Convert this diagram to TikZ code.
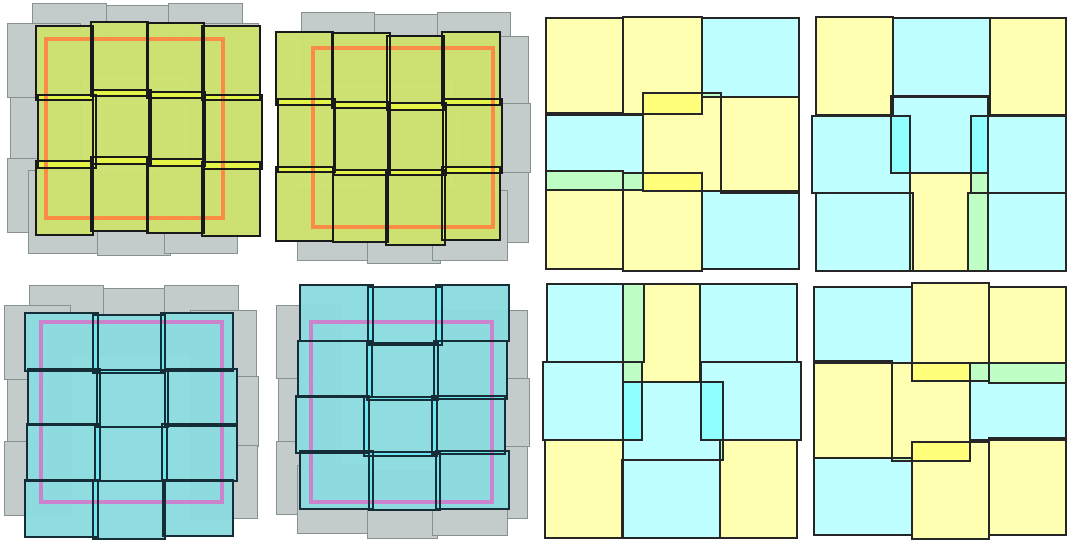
\documentclass[tikz,border=0pt]{standalone}
\begin{document}
\definecolor{grayfill}{RGB}{196,203,203}
\definecolor{grayline}{RGB}{135,145,145}
\definecolor{gfill}{RGB}{205,226,112}
\definecolor{gover}{RGB}{228,244,70}
\definecolor{cfill}{RGB}{140,220,224}
\definecolor{cover}{RGB}{110,232,240}
\definecolor{orangeline}{RGB}{250,140,70}
\definecolor{pinkline}{RGB}{205,130,205}
\definecolor{cborder}{RGB}{20,45,55}
\definecolor{pureyellow}{RGB}{255,255,0}
\definecolor{purecyan}{RGB}{0,255,255}
\newcommand\mytiles[2]{\foreach \a/\b/\c/\d in #1 {\path[#2] (\a,\b) rectangle (\c,\d);}}
\newcommand\myovl[2]{%
  \foreach \a/\b/\c/\d [count=\i] in #1 {%
    \foreach \e/\f/\g/\h [count=\j] in #1 {%
      \ifnum\j>\i
        \begin{scope}\clip (\a,\b) rectangle (\c,\d);\fill[#2] (\e,\f) rectangle (\g,\h);\end{scope}%
      \fi}}}
% gray backgrounds
\def\GA{32/3/106/75, 106/5/168/75, 168/3/242/75, 7/23/80/97, 10/97/80/158, 7/158/80/232, 28/170/101/253, 97/175/170/255, 164/170/237/253, 190/23/258/97, 190/97/262/158, 190/158/258/232}
\def\GB{301/12/374/80, 374/14/437/80, 437/12/510/80, 455/36/528/110, 460/103/530/172, 455/172/528/242, 297/190/371/260, 367/195/440/263, 432/190/507/260}
\def\GC{29/285/103/355, 103/288/164/355, 164/285/238/355, 4/305/70/379, 7/379/70/441, 4/441/70/515, 190/310/256/383, 190/376/258/446, 190/445/257/518}
\def\GD{276/305/340/378, 278/378/340/441, 276/441/340/514, 440/310/527/383, 440/378/529/446, 440/446/527/518, 297/465/370/533, 367/470/437/538, 432/465/507/535}
% coloured tiles
\def\PA{36/26/93/100, 91/22/148/96, 147/23/204/98, 202/26/260/100, 38/95/96/168, 93/90/151/164, 149/92/205/166, 203/95/262/169, 36/161/93/235, 91/157/148/231, 147/159/204/233, 202/162/260/236}
\def\PB{276/32/333/105, 332/33/390/108, 387/36/444/110, 442/32/500/105, 278/99/335/172, 334/102/390/175, 388/103/446/175, 443/99/502/173, 276/167/333/241, 333/170/388/242, 386/170/445/245, 442/167/500/240}
\def\PC{25/313/98/371, 93/315/165/373, 161/313/233/371, 28/369/100/425, 97/370/168/427, 165/369/237/426, 27/424/100/481, 95/427/167/481, 162/424/237/481, 25/480/98/537, 93/481/165/539, 163/480/233/536}
\def\PD{300/285/373/341, 368/287/442/345, 436/285/509/341, 298/341/372/397, 367/343/438/400, 434/341/507/399, 296/396/369/453, 364/397/437/456, 432/396/505/454, 300/451/373/509, 369/452/440/510, 436/451/509/509}
% right-hand panels
\def\YA{546/18/623/113, 623/17/702/114, 643/93/721/191, 721/97/799/193, 546/171/623/269, 623/173/702/271}
\def\CA{702/18/799/97, 546/115/643/190, 702/191/799/269}
\def\YB{816/17/893/115, 990/18/1066/115, 910/173/988/271}
\def\CB{893/18/990/97, 891/96/988/173, 812/116/910/193, 971/116/1066/193, 816/193/913/271, 968/193/1066/271}
\def\YC{623/284/700/382, 545/440/623/538, 720/440/797/538}
\def\CC{547/284/644/362, 700/284/797/362, 543/362/642/440, 623/382/723/460, 701/362/801/440, 622/460/720/538}
\def\YD{912/283/989/381, 989/287/1066/383, 814/361/892/458, 892/363/970/461, 912/442/989/539, 989/438/1066/535}
\def\CD{814/287/912/363, 970/363/1066/440, 814/458/912/535}
\begin{tikzpicture}[x=1pt,y=-1pt,
  graytile/.style={fill=grayfill,draw=grayline,line width=0.8pt},
  greentile/.style={fill=gfill,fill opacity=0.97},
  cyantile/.style={fill=cfill,fill opacity=0.97},
  darkborder/.style={draw=black!90,line width=1.2pt},
  cyanborder/.style={draw=cborder,line width=1.2pt},
  ytile/.style={fill=pureyellow,fill opacity=0.3},
  ctile/.style={fill=purecyan,fill opacity=0.25},
  thinborder/.style={draw=black!85,line width=1.2pt},
  outlineO/.style={draw=orangeline,line width=3.5pt},
  outlineP/.style={draw=pinkline,line width=3.5pt}]
\useasboundingbox[fill=white] (0,0) rectangle (1067,543);
% panel 1
\mytiles{\GA}{graytile}
\mytiles{\PA}{greentile}
\myovl{\PA}{gover}
\draw[outlineO] (46,39) rectangle (223,218);
\mytiles{\PA}{darkborder}
% panel 2
\mytiles{\GB}{graytile}
\mytiles{\PB}{greentile}
\myovl{\PB}{gover}
\draw[outlineO] (313,48) rectangle (493,227);
\mytiles{\PB}{darkborder}
% panel 3
\mytiles{\GC}{graytile}
\mytiles{\PC}{cyantile}
\myovl{\PC}{cover}
\draw[outlineP] (41,322) rectangle (222,502);
\mytiles{\PC}{cyanborder}
% panel 4
\mytiles{\GD}{graytile}
\mytiles{\PD}{cyantile}
\myovl{\PD}{cover}
\draw[outlineP] (311,322) rectangle (492,502);
\mytiles{\PD}{cyanborder}
% panels 5-8
\mytiles{\YA}{ytile}\mytiles{\CA}{ctile}
\mytiles{\YB}{ytile}\mytiles{\CB}{ctile}
\mytiles{\YC}{ytile}\mytiles{\CC}{ctile}
\mytiles{\YD}{ytile}\mytiles{\CD}{ctile}
\mytiles{\YA}{thinborder}\mytiles{\CA}{thinborder}
\mytiles{\YB}{thinborder}\mytiles{\CB}{thinborder}
\mytiles{\YC}{thinborder}\mytiles{\CC}{thinborder}
\mytiles{\YD}{thinborder}\mytiles{\CD}{thinborder}
\end{tikzpicture}
\end{document}
